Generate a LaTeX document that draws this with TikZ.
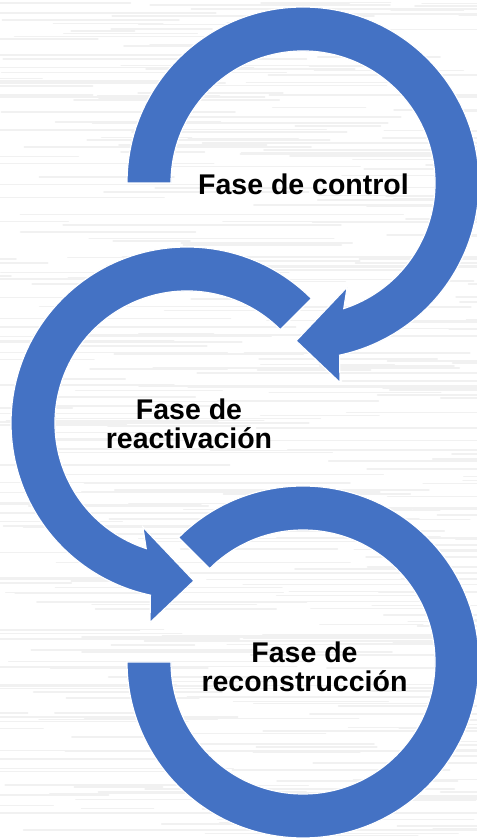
\documentclass[tikz,border=0pt]{standalone}
\usepackage{fontspec}
\setmainfont{Liberation Sans}
\usepackage{xcolor}
\definecolor{arrowblue}{HTML}{4472C4}
\begin{document}
\begin{tikzpicture}[x=1pt,y=1pt,
    ring/.style={fill=arrowblue,draw=white,line width=1.2pt},
    phase/.style={font=\fontsize{28.5}{29}\selectfont\bfseries,align=center,inner sep=0pt}]
  \useasboundingbox (0,0) rectangle (477,839);
  \begin{scope}
    \clip (0,0) rectangle (477,839);
    \fill[white] (0,0) rectangle (477,839);
    \pgfmathsetseed{12}
    \foreach \k in {1,...,420}{
      \pgfmathsetmacro{\yy}{rnd*839}
      \pgfmathsetmacro{\xx}{rnd*577-100}
      \pgfmathsetmacro{\ll}{60+rnd*260}
      \draw[gray!11,line width=1.6pt,line cap=round] (\xx,\yy) -- ++(\ll,0);
    }
  \end{scope}
  \coordinate (control) at (303,656);
  \coordinate (reactivacion) at (187,416);
  \coordinate (reconstruccion) at (303,177);
  \path[ring,shift={(control)}] (180:176) arc[start angle=180,end angle=-78,radius=176]
    -- (-79.5:203) -- (-92.5:158) -- (-67:113) -- (-72:132)
    arc[start angle=-72,end angle=180,radius=132] -- cycle;
  \path[ring,shift={(reactivacion)}] (45:176) arc[start angle=45,end angle=258,radius=176]
    -- (259.5:203) -- (272.5:158) -- (247:113) -- (252:132)
    arc[start angle=252,end angle=45,radius=132] -- cycle;
  \path[ring,shift={(reconstruccion)}] (135:176) arc[start angle=135,end angle=-180,radius=176]
    -- (180:132) arc[start angle=-180,end angle=135,radius=132] -- cycle;
  \node[phase] (control label) at (303.5,655) {Fase de control};
  \node[phase] (reactivacion label) at (189,415) {Fase de\\reactivación};
  \node[phase] (reconstruccion label) at (304.5,172) {Fase de\\reconstrucción};
\end{tikzpicture}
\end{document}
